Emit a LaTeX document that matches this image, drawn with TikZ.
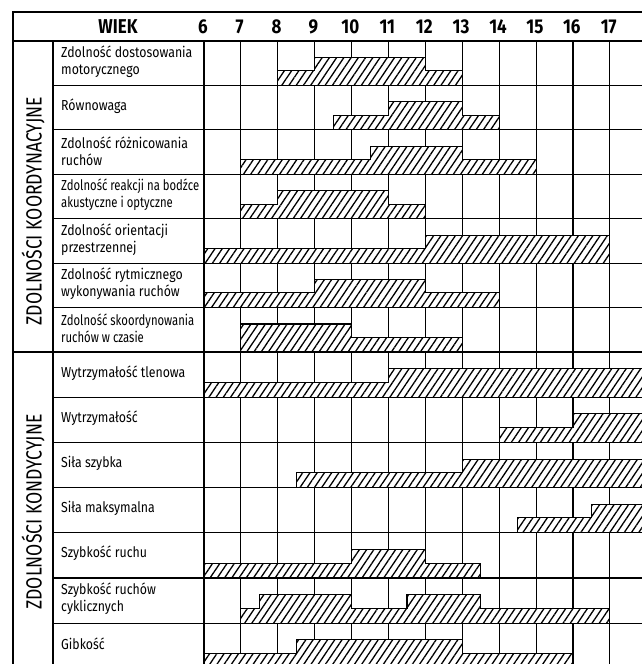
\documentclass[tikz,border=0pt]{standalone}
\usepackage{fontspec}
\newfontfamily\tablefont{Fira Sans}[FakeStretch=0.85]
\newfontfamily\narrowfont{Fira Sans}[FakeStretch=0.78]
\newfontfamily\groupfont{Fira Sans}[FakeStretch=0.8]
\usetikzlibrary{patterns.meta}

\tikzset{
  gridline/.style={line width=1.1pt},
  frameline/.style={line width=1.5pt},
  hatchbar/.style={draw, line width=1.1pt, preaction={fill=white},
    pattern={Lines[angle=56,distance=6pt,line width=1.3pt]}},
  rowlabel/.style={anchor=west, align=left, inner sep=0pt,
    font=\tablefont\fontsize{14.5}{17}\selectfont},
  tightlabel/.style={rowlabel, font=\narrowfont\fontsize{14.5}{17}\selectfont},
  agelabel/.style={font=\tablefont\bfseries\fontsize{20}{22}\selectfont},
  grouplabel/.style={rotate=90, font=\groupfont\fontsize{22}{24}\selectfont}
}
\newcommand\hatchrow[5]{\draw[hatchbar] (#2,#1) -- (#2,#1-0.33) -- (#4,#1-0.33)
  -- (#4,#1-0.63) -- (#5,#1-0.63) -- (#5,#1-0.33) -- (#3,#1-0.33) -- (#3,#1) -- cycle;}

\begin{document}
\begin{tikzpicture}[x=1pt, y=-1pt]
\clip (0,0) rectangle (642,664);
\fill[white] (0,0) rectangle (642,664);

\draw[frameline] (13,664) -- (13,12) -- (642,12);
\draw[gridline] (13,41) -- (642,41);
\draw[gridline] (53,41) -- (53,664);
\draw[gridline] (204,41) -- (204,664);
\foreach \a in {7,...,18}
  \draw[gridline] (36.9*\a-17.4,41) -- (36.9*\a-17.4,664);
\foreach \r in {1,...,6}
  \draw[gridline] (53,41+44.43*\r) -- (642,41+44.43*\r);
\foreach \r in {1,...,6}
  \draw[gridline] (53,352+45.2*\r) -- (642,352+45.2*\r);
\draw[frameline] (13,352) -- (642,352);

\node[agelabel] (wiek) at (118,27) {WIEK};
\foreach \a in {6,...,17}
  \node[agelabel] (age\a) at (36.9*\a-18.6,27) {\a};

\node[grouplabel] (koord) at (33,211) {ZDOLNOŚCI KOORDYNACYJNE};
\node[grouplabel] (kond) at (33,512) {ZDOLNOŚCI KONDYCYJNE};

\node[rowlabel] (dostos) at (61,62) {Zdolność dostosowania\\motorycznego};
\node[rowlabel] (rowno) at (61,106) {Równowaga};
\node[rowlabel] (rozn) at (61,151) {Zdolność różnicowania\\ruchów};
\node[tightlabel] (reakcja) at (61,195) {Zdolność reakcji na bodźce\\akustyczne i optyczne};
\node[rowlabel] (orient) at (61,240) {Zdolność orientacji\\przestrzennej};
\node[rowlabel] (rytm) at (61,284) {Zdolność rytmicznego\\wykonywania ruchów};
\node[tightlabel] (skoord) at (61,328) {Zdolność skoordynowania\\ruchów w czasie};
\node[rowlabel] (tlen) at (61,373) {Wytrzymałość tlenowa};
\node[rowlabel] (wytrz) at (61,418) {Wytrzymałość};
\node[rowlabel] (szybka) at (61,463) {Siła szybka};
\node[rowlabel] (maks) at (61,508) {Siła maksymalna};
\node[rowlabel] (ruch) at (61,553) {Szybkość ruchu};
\node[rowlabel] (cykl) at (61,599) {Szybkość ruchów\\cyklicznych};
\node[rowlabel] (gibk) at (61,644) {Gibkość};

\begin{scope}[x=36.9pt, xshift=-17.4pt, y=-44.43pt, yshift=-41pt]
  \hatchrow{1}{8}{13}{9}{12}
  \hatchrow{2}{9.5}{14}{11}{13}
  \hatchrow{3}{7}{15}{10.5}{13}
  \hatchrow{4}{7}{12}{8}{11}
  \hatchrow{5}{6}{17}{12}{17}
  \hatchrow{6}{6}{14}{9}{12}
  \hatchrow{7}{7}{13}{7}{10}
\end{scope}
\begin{scope}[x=36.9pt, xshift=-17.4pt, y=-45.2pt, yshift=-352pt]
  \hatchrow{1}{6}{18.5}{11}{18.5}
  \hatchrow{2}{14}{18.5}{16}{18.5}
  \hatchrow{3}{8.5}{18.5}{13}{18.5}
  \hatchrow{4}{14.5}{18.5}{16.5}{18.5}
  \hatchrow{5}{6}{13.5}{10}{12}
  \draw[hatchbar] (7,6) -- (7,5.67) -- (7.5,5.67) -- (7.5,5.37) -- (10,5.37)
    -- (10,5.67) -- (11.5,5.67) -- (11.5,5.37) -- (13.5,5.37) -- (13.5,5.67)
    -- (17,5.67) -- (17,6) -- cycle;
  \hatchrow{7}{6}{16}{8.5}{13}
\end{scope}
\end{tikzpicture}
\end{document}
